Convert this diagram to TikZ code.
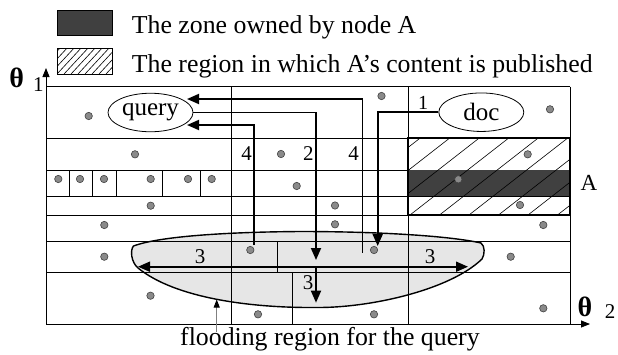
\documentclass[tikz,border=0pt]{standalone}
\usepackage{fontspec}
\setmainfont{Liberation Serif}
\usetikzlibrary{arrows.meta,shapes.geometric}
\definecolor{zone}{HTML}{404040}
\definecolor{flood}{HTML}{E6E6E6}
\definecolor{dotgray}{HTML}{8A8A8A}
\begin{document}
\begin{tikzpicture}[x=1pt,y=-1pt,
  gridline/.style={line width=0.8pt},
  dot/.style={circle,fill=dotgray,draw=black!75,line width=0.6pt,inner sep=0pt,minimum size=7.4pt},
  flow/.style={line width=1.8pt,-{Triangle[length=12pt,width=10pt]}},
  lbl/.style={font=\fontsize{21}{24}\selectfont,inner sep=0pt},
  big/.style={font=\fontsize{25.8}{29}\selectfont,inner sep=0pt},
  oval/.style={draw,ellipse,line width=0.8pt,minimum width=85pt,minimum height=38.5pt,inner sep=0pt,font=\fontsize{25}{28}\selectfont},
  axis/.style={line width=0.8pt,-{Triangle[length=9pt,width=7pt]}},
  hatchline/.style={line width=0.6pt},
  theta/.style={font=\bfseries\fontsize{28}{30}\selectfont,inner sep=0pt}
]
\useasboundingbox (0,0) rectangle (618,354);
\def\floodpath{(133.5,246) .. controls (160,236) and (230,232) .. (300,231.5) .. controls (380,231.5) and (450,236) .. (481,243) .. controls (485,246) and (485,254) .. (482,259) .. controls (450,290) and (370,308) .. (316,307.5) .. controls (250,308) and (175,298) .. (138,268) .. controls (131,262) and (130,250) .. (133.5,246) -- cycle}

% legend
\fill[zone] (57,10) rectangle (112,35);
\draw[line width=0.7pt] (57,10) rectangle (112,35);
\begin{scope}
  \clip (57,48) rectangle (112,74);
  \foreach \k in {-5,...,9} \draw[hatchline] (57+7*\k,74) -- ++(26,-28);
\end{scope}
\draw[line width=0.7pt] (57,48) rectangle (112,74);
\node[big,anchor=base west] (leg1) at (131.7,33.3) {The zone owned by node A};
\node[big,anchor=base west] (leg2) at (131.7,72.3) {The region in which A’s content is published};

% flooding region fill
\fill[flood] \floodpath;

% grid
\foreach \y in {86.7,138.3,170,196,215,241,272.7}
  \draw[gridline] (46,\y) -- (570,\y);
\foreach \x in {231,408,570}
  \draw[gridline] (\x,86.7) -- (\x,324);
\foreach \x in {69,92.7,116,162,200}
  \draw[gridline] (\x,170) -- (\x,196);
\draw[gridline] (277,241) -- (277,272.7);
\draw[gridline] (292.7,272.7) -- (292.7,324);

% axes
\coordinate (origin) at (46,324);
\coordinate (ytip) at (46,68);
\coordinate (xtip) at (590,324);
\draw[axis] (origin) -- (ytip);
\draw[axis] (origin) -- (xtip);
\node[theta] (th1) at (16.8,78.3) {θ};
\node[lbl] (one) at (38.3,84.5) {1};
\node[theta] (th2) at (585,306.7) {θ};
\node[lbl] (two) at (610,311.7) {2};

% zone of A and published region
\begin{scope}
  \clip (408,138.3) rectangle (570,215);
  \fill[zone] (408,170) rectangle (570,196);
  \foreach \k in {-4,...,6} \draw[hatchline] (410+29.5*\k,215) -- ++(100,-78);
\end{scope}
\draw[line width=1.8pt] (408,138.3) rectangle (570,215);
\node[font=\fontsize{23}{26}\selectfont,inner sep=0pt] (Alab) at (589,183) {A};

% flooding region outline
\draw[line width=1.4pt] \floodpath;

% dots
\foreach \p [count=\i] in {(88.7,116),(135,154.3),(58.3,179),(80,179),(104,179),(150.7,179),(188,179),(211.7,179),
  (296.7,186),(150.7,205.7),(381.5,96),(281,154),(335,205.5),(550,109.3),(527.7,154.3),(458.3,179.3),
  (520,205),(335,224.3),(543.3,225),(510.7,256.7),(374,250),(250.3,250),(543.3,308.3),(374,314.3),
  (258,314.3),(104.3,225),(104.3,256.7),(150.5,295.7)}
  \node[dot] (d\i) at \p {};

% query and doc
\node[oval] (query) at (150.5,112.5) {query};
\node[oval] (doc) at (481.3,112.2) {doc};

% routing coordinates
\coordinate (qA) at (187,99);
\coordinate (qC) at (187,125);
\coordinate (sA) at (362.5,252.7);
\coordinate (sC) at (254,245);
\coordinate (tB) at (316,260);
\coordinate (tD) at (377.7,246);
\coordinate (hc) at (316,266.7);
\coordinate (hl) at (138,266.7);
\coordinate (hr) at (468,266.7);
\coordinate (hb) at (316,302.7);

\draw[flow] (sA) |- (qA);
\draw[flow] (sC) |- (qC);
\draw[flow] (query.east) -| (tB);
\draw[flow] (doc.west) -| (tD);
\draw[flow] (hc) -- (hl);
\draw[flow] (hc) -- (hr);
\draw[flow] (hc) -- (hb);

% step labels
\node[lbl,font=\fontsize{20}{24}\selectfont] (n1) at (423,103) {1};
\node[lbl] (n4a) at (246.7,154) {4};
\node[lbl] (n2) at (308.3,154) {2};
\node[lbl] (n4b) at (353.7,154) {4};
\node[lbl] (n3a) at (200,256.7) {3};
\node[lbl] (n3b) at (430,256.7) {3};
\node[lbl] (n3c) at (308,282.7) {3};

% caption with pointer
\node[big,anchor=base west] (caption) at (180,345) {flooding region for the query};
\coordinate (p0) at (216.7,332);
\coordinate (p1) at (216.7,299.5);
\draw[gray,line width=1pt,-{Triangle[length=8pt,width=6pt,black]}] (p0) -- (p1);
\end{tikzpicture}
\end{document}
